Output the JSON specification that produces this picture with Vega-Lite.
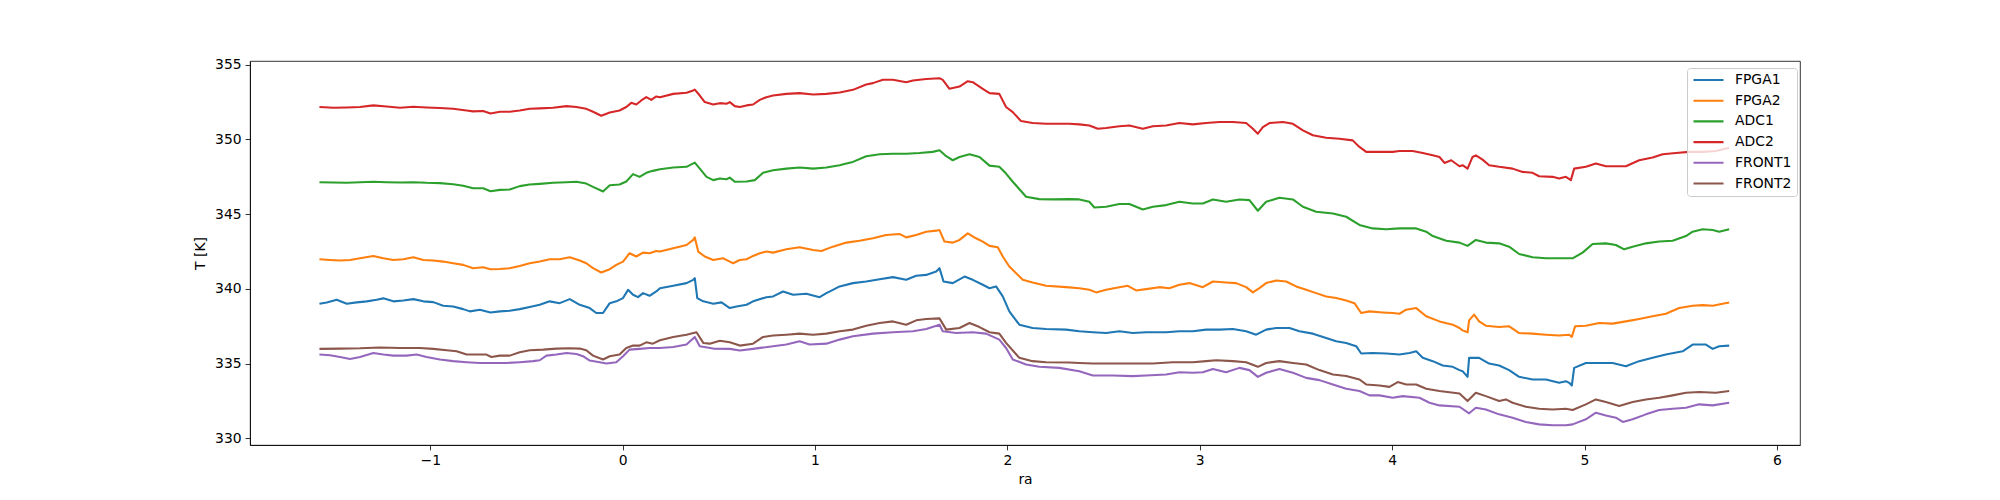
{
"$schema":"https://vega.github.io/schema/vega-lite/v6.json",
"width":1550,"height":384,
"autosize":{"type":"none"},
"padding":{"left":250,"top":61,"right":200,"bottom":55},
"background":"white",
"config":{
"view":{"stroke":"black","strokeWidth":0.8},
"font":"DejaVu Sans",
"axis":{"domainColor":"black","domainWidth":0.8,"tickColor":"black","tickWidth":0.8,"tickSize":4.9,"labelFont":"DejaVu Sans","labelFontSize":13.9,"labelColor":"black","labelPadding":4,"titleFont":"DejaVu Sans","titleFontSize":13.9,"titleFontWeight":"normal","titleColor":"black","grid":false},
"legend":{"orient":"none","legendX":1437,"legendY":7,"fillColor":"rgba(255,255,255,0.8)","strokeColor":"#cccccc","strokeWidth":1,"cornerRadius":3,"padding":5,"symbolType":"stroke","symbolSize":900,"symbolStrokeWidth":2.08,"clipHeight":14,"labelFont":"DejaVu Sans","labelFontSize":13.9,"labelColor":"black","labelOffset":10,"rowPadding":6.7}
},
"data":{"values":[
{"s":"FPGA1","x":-1.576,"t":339.00},{"s":"FPGA1","x":-1.538,"t":339.09},{"s":"FPGA1","x":-1.486,"t":339.27},{"s":"FPGA1","x":-1.434,"t":339.00},{"s":"FPGA1","x":-1.382,"t":339.09},{"s":"FPGA1","x":-1.330,"t":339.16},{"s":"FPGA1","x":-1.279,"t":339.27},{"s":"FPGA1","x":-1.244,"t":339.36},{"s":"FPGA1","x":-1.192,"t":339.16},{"s":"FPGA1","x":-1.140,"t":339.22},{"s":"FPGA1","x":-1.088,"t":339.31},{"s":"FPGA1","x":-1.036,"t":339.16},{"s":"FPGA1","x":-0.984,"t":339.11},{"s":"FPGA1","x":-0.933,"t":338.87},{"s":"FPGA1","x":-0.881,"t":338.82},{"s":"FPGA1","x":-0.829,"t":338.64},{"s":"FPGA1","x":-0.794,"t":338.49},{"s":"FPGA1","x":-0.742,"t":338.60},{"s":"FPGA1","x":-0.687,"t":338.42},{"s":"FPGA1","x":-0.638,"t":338.49},{"s":"FPGA1","x":-0.587,"t":338.53},{"s":"FPGA1","x":-0.535,"t":338.64},{"s":"FPGA1","x":-0.483,"t":338.78},{"s":"FPGA1","x":-0.431,"t":338.93},{"s":"FPGA1","x":-0.379,"t":339.16},{"s":"FPGA1","x":-0.327,"t":339.04},{"s":"FPGA1","x":-0.275,"t":339.31},{"s":"FPGA1","x":-0.223,"t":338.93},{"s":"FPGA1","x":-0.171,"t":338.71},{"s":"FPGA1","x":-0.137,"t":338.38},{"s":"FPGA1","x":-0.102,"t":338.38},{"s":"FPGA1","x":-0.067,"t":339.04},{"s":"FPGA1","x":-0.033,"t":339.16},{"s":"FPGA1","x":0.002,"t":339.38},{"s":"FPGA1","x":0.028,"t":339.93},{"s":"FPGA1","x":0.054,"t":339.60},{"s":"FPGA1","x":0.080,"t":339.44},{"s":"FPGA1","x":0.106,"t":339.71},{"s":"FPGA1","x":0.140,"t":339.53},{"s":"FPGA1","x":0.175,"t":339.82},
{"s":"FPGA1","x":0.194,"t":340.04},{"s":"FPGA1","x":0.263,"t":340.20},{"s":"FPGA1","x":0.332,"t":340.38},{"s":"FPGA1","x":0.367,"t":340.60},{"s":"FPGA1","x":0.375,"t":340.71},{"s":"FPGA1","x":0.388,"t":339.38},{"s":"FPGA1","x":0.419,"t":339.16},{"s":"FPGA1","x":0.471,"t":339.00},{"s":"FPGA1","x":0.514,"t":339.09},{"s":"FPGA1","x":0.557,"t":338.71},{"s":"FPGA1","x":0.592,"t":338.82},{"s":"FPGA1","x":0.644,"t":338.93},{"s":"FPGA1","x":0.678,"t":339.16},{"s":"FPGA1","x":0.747,"t":339.44},{"s":"FPGA1","x":0.782,"t":339.49},{"s":"FPGA1","x":0.834,"t":339.82},{"s":"FPGA1","x":0.886,"t":339.60},{"s":"FPGA1","x":0.955,"t":339.67},{"s":"FPGA1","x":1.024,"t":339.44},{"s":"FPGA1","x":1.059,"t":339.71},{"s":"FPGA1","x":1.093,"t":339.93},{"s":"FPGA1","x":1.128,"t":340.16},{"s":"FPGA1","x":1.197,"t":340.38},{"s":"FPGA1","x":1.266,"t":340.49},{"s":"FPGA1","x":1.336,"t":340.64},{"s":"FPGA1","x":1.405,"t":340.78},{"s":"FPGA1","x":1.474,"t":340.60},{"s":"FPGA1","x":1.526,"t":340.87},{"s":"FPGA1","x":1.578,"t":340.93},{"s":"FPGA1","x":1.630,"t":341.16},{"s":"FPGA1","x":1.647,"t":341.38},{"s":"FPGA1","x":1.668,"t":340.49},{"s":"FPGA1","x":1.716,"t":340.38},{"s":"FPGA1","x":1.777,"t":340.82},{"s":"FPGA1","x":1.820,"t":340.60},{"s":"FPGA1","x":1.872,"t":340.27},{"s":"FPGA1","x":1.907,"t":340.04},{"s":"FPGA1","x":1.941,"t":340.16},{"s":"FPGA1","x":1.976,"t":339.49},{"s":"FPGA1","x":2.010,"t":338.49},{"s":"FPGA1","x":2.062,"t":337.60},{"s":"FPGA1","x":2.131,"t":337.38},{"s":"FPGA1","x":2.201,"t":337.31},
{"s":"FPGA1","x":2.305,"t":337.27},{"s":"FPGA1","x":2.374,"t":337.16},{"s":"FPGA1","x":2.444,"t":337.09},{"s":"FPGA1","x":2.513,"t":337.04},{"s":"FPGA1","x":2.582,"t":337.16},{"s":"FPGA1","x":2.652,"t":337.04},{"s":"FPGA1","x":2.721,"t":337.09},{"s":"FPGA1","x":2.825,"t":337.09},{"s":"FPGA1","x":2.894,"t":337.16},{"s":"FPGA1","x":2.964,"t":337.16},{"s":"FPGA1","x":3.033,"t":337.27},{"s":"FPGA1","x":3.102,"t":337.27},{"s":"FPGA1","x":3.172,"t":337.31},{"s":"FPGA1","x":3.241,"t":337.16},{"s":"FPGA1","x":3.293,"t":336.93},{"s":"FPGA1","x":3.345,"t":337.27},{"s":"FPGA1","x":3.397,"t":337.38},{"s":"FPGA1","x":3.466,"t":337.38},{"s":"FPGA1","x":3.518,"t":337.16},{"s":"FPGA1","x":3.588,"t":337.00},{"s":"FPGA1","x":3.657,"t":336.71},{"s":"FPGA1","x":3.709,"t":336.49},{"s":"FPGA1","x":3.761,"t":336.38},{"s":"FPGA1","x":3.813,"t":336.16},{"s":"FPGA1","x":3.839,"t":335.67},{"s":"FPGA1","x":3.899,"t":335.71},{"s":"FPGA1","x":3.969,"t":335.67},{"s":"FPGA1","x":4.038,"t":335.60},{"s":"FPGA1","x":4.090,"t":335.71},{"s":"FPGA1","x":4.125,"t":335.82},{"s":"FPGA1","x":4.159,"t":335.38},{"s":"FPGA1","x":4.211,"t":335.16},{"s":"FPGA1","x":4.263,"t":334.87},{"s":"FPGA1","x":4.315,"t":334.78},{"s":"FPGA1","x":4.350,"t":334.56},
{"s":"FPGA1","x":4.366,"t":334.49},{"s":"FPGA1","x":4.392,"t":334.11},{"s":"FPGA1","x":4.400,"t":335.38},{"s":"FPGA1","x":4.452,"t":335.38},{"s":"FPGA1","x":4.504,"t":335.00},{"s":"FPGA1","x":4.556,"t":334.87},{"s":"FPGA1","x":4.608,"t":334.56},{"s":"FPGA1","x":4.660,"t":334.11},{"s":"FPGA1","x":4.730,"t":333.93},{"s":"FPGA1","x":4.799,"t":333.93},{"s":"FPGA1","x":4.868,"t":333.71},{"s":"FPGA1","x":4.903,"t":333.82},{"s":"FPGA1","x":4.920,"t":333.71},{"s":"FPGA1","x":4.934,"t":333.53},{"s":"FPGA1","x":4.946,"t":334.71},{"s":"FPGA1","x":5.007,"t":335.04},{"s":"FPGA1","x":5.076,"t":335.04},{"s":"FPGA1","x":5.146,"t":335.04},{"s":"FPGA1","x":5.215,"t":334.82},{"s":"FPGA1","x":5.284,"t":335.16},{"s":"FPGA1","x":5.354,"t":335.38},{"s":"FPGA1","x":5.423,"t":335.60},{"s":"FPGA1","x":5.510,"t":335.82},{"s":"FPGA1","x":5.562,"t":336.27},{"s":"FPGA1","x":5.631,"t":336.27},{"s":"FPGA1","x":5.666,"t":335.98},{"s":"FPGA1","x":5.700,"t":336.16},{"s":"FPGA1","x":5.752,"t":336.20},
{"s":"FPGA2","x":-1.576,"t":341.98},{"s":"FPGA2","x":-1.521,"t":341.93},{"s":"FPGA2","x":-1.469,"t":341.89},{"s":"FPGA2","x":-1.417,"t":341.93},{"s":"FPGA2","x":-1.365,"t":342.04},{"s":"FPGA2","x":-1.296,"t":342.20},{"s":"FPGA2","x":-1.244,"t":342.04},{"s":"FPGA2","x":-1.192,"t":341.93},{"s":"FPGA2","x":-1.140,"t":341.98},{"s":"FPGA2","x":-1.088,"t":342.11},{"s":"FPGA2","x":-1.036,"t":341.93},{"s":"FPGA2","x":-0.984,"t":341.89},{"s":"FPGA2","x":-0.933,"t":341.82},{"s":"FPGA2","x":-0.881,"t":341.71},{"s":"FPGA2","x":-0.829,"t":341.60},{"s":"FPGA2","x":-0.777,"t":341.38},{"s":"FPGA2","x":-0.725,"t":341.44},{"s":"FPGA2","x":-0.687,"t":341.31},{"s":"FPGA2","x":-0.638,"t":341.33},{"s":"FPGA2","x":-0.587,"t":341.38},{"s":"FPGA2","x":-0.535,"t":341.53},{"s":"FPGA2","x":-0.483,"t":341.71},{"s":"FPGA2","x":-0.431,"t":341.82},{"s":"FPGA2","x":-0.379,"t":341.98},{"s":"FPGA2","x":-0.327,"t":341.98},{"s":"FPGA2","x":-0.275,"t":342.11},{"s":"FPGA2","x":-0.223,"t":341.89},{"s":"FPGA2","x":-0.189,"t":341.71},{"s":"FPGA2","x":-0.154,"t":341.38},{"s":"FPGA2","x":-0.111,"t":341.09},{"s":"FPGA2","x":-0.067,"t":341.31},{"s":"FPGA2","x":-0.033,"t":341.60},{"s":"FPGA2","x":0.002,"t":341.82},{"s":"FPGA2","x":0.036,"t":342.38},{"s":"FPGA2","x":0.071,"t":342.16},{"s":"FPGA2","x":0.106,"t":342.42},{"s":"FPGA2","x":0.140,"t":342.38},{"s":"FPGA2","x":0.175,"t":342.53},
{"s":"FPGA2","x":0.194,"t":342.49},{"s":"FPGA2","x":0.263,"t":342.71},{"s":"FPGA2","x":0.332,"t":342.93},{"s":"FPGA2","x":0.367,"t":343.27},{"s":"FPGA2","x":0.375,"t":343.44},{"s":"FPGA2","x":0.393,"t":342.49},{"s":"FPGA2","x":0.427,"t":342.16},{"s":"FPGA2","x":0.471,"t":341.93},{"s":"FPGA2","x":0.522,"t":342.04},{"s":"FPGA2","x":0.557,"t":341.82},{"s":"FPGA2","x":0.574,"t":341.71},{"s":"FPGA2","x":0.609,"t":341.93},{"s":"FPGA2","x":0.644,"t":341.98},{"s":"FPGA2","x":0.678,"t":342.20},{"s":"FPGA2","x":0.713,"t":342.38},{"s":"FPGA2","x":0.747,"t":342.49},{"s":"FPGA2","x":0.782,"t":342.42},{"s":"FPGA2","x":0.851,"t":342.64},{"s":"FPGA2","x":0.920,"t":342.78},{"s":"FPGA2","x":0.990,"t":342.60},{"s":"FPGA2","x":1.033,"t":342.53},{"s":"FPGA2","x":1.093,"t":342.82},{"s":"FPGA2","x":1.163,"t":343.09},{"s":"FPGA2","x":1.232,"t":343.22},{"s":"FPGA2","x":1.301,"t":343.38},{"s":"FPGA2","x":1.370,"t":343.60},{"s":"FPGA2","x":1.439,"t":343.67},{"s":"FPGA2","x":1.474,"t":343.44},{"s":"FPGA2","x":1.526,"t":343.60},{"s":"FPGA2","x":1.578,"t":343.82},{"s":"FPGA2","x":1.630,"t":343.89},{"s":"FPGA2","x":1.647,"t":343.93},{"s":"FPGA2","x":1.673,"t":343.16},{"s":"FPGA2","x":1.716,"t":343.09},{"s":"FPGA2","x":1.751,"t":343.27},{"s":"FPGA2","x":1.794,"t":343.71},{"s":"FPGA2","x":1.837,"t":343.38},{"s":"FPGA2","x":1.872,"t":343.16},{"s":"FPGA2","x":1.907,"t":342.87},{"s":"FPGA2","x":1.950,"t":342.78},{"s":"FPGA2","x":1.976,"t":342.16},{"s":"FPGA2","x":2.010,"t":341.49},{"s":"FPGA2","x":2.080,"t":340.60},{"s":"FPGA2","x":2.131,"t":340.42},{"s":"FPGA2","x":2.201,"t":340.20},
{"s":"FPGA2","x":2.305,"t":340.11},{"s":"FPGA2","x":2.374,"t":340.04},{"s":"FPGA2","x":2.426,"t":339.93},{"s":"FPGA2","x":2.461,"t":339.76},{"s":"FPGA2","x":2.513,"t":339.93},{"s":"FPGA2","x":2.582,"t":340.11},{"s":"FPGA2","x":2.626,"t":340.20},{"s":"FPGA2","x":2.669,"t":339.89},{"s":"FPGA2","x":2.721,"t":339.98},{"s":"FPGA2","x":2.790,"t":340.11},{"s":"FPGA2","x":2.842,"t":340.04},{"s":"FPGA2","x":2.894,"t":340.27},{"s":"FPGA2","x":2.946,"t":340.38},{"s":"FPGA2","x":3.016,"t":340.11},{"s":"FPGA2","x":3.068,"t":340.49},{"s":"FPGA2","x":3.137,"t":340.42},{"s":"FPGA2","x":3.189,"t":340.38},{"s":"FPGA2","x":3.241,"t":340.11},{"s":"FPGA2","x":3.276,"t":339.76},{"s":"FPGA2","x":3.310,"t":340.04},{"s":"FPGA2","x":3.345,"t":340.38},{"s":"FPGA2","x":3.397,"t":340.56},{"s":"FPGA2","x":3.449,"t":340.49},{"s":"FPGA2","x":3.501,"t":340.16},{"s":"FPGA2","x":3.553,"t":339.93},{"s":"FPGA2","x":3.605,"t":339.71},{"s":"FPGA2","x":3.657,"t":339.49},{"s":"FPGA2","x":3.709,"t":339.38},{"s":"FPGA2","x":3.761,"t":339.22},{"s":"FPGA2","x":3.804,"t":339.04},{"s":"FPGA2","x":3.839,"t":338.38},{"s":"FPGA2","x":3.882,"t":338.49},{"s":"FPGA2","x":3.951,"t":338.42},{"s":"FPGA2","x":4.003,"t":338.38},{"s":"FPGA2","x":4.038,"t":338.33},{"s":"FPGA2","x":4.073,"t":338.60},{"s":"FPGA2","x":4.125,"t":338.71},{"s":"FPGA2","x":4.177,"t":338.16},{"s":"FPGA2","x":4.246,"t":337.82},{"s":"FPGA2","x":4.315,"t":337.60},{"s":"FPGA2","x":4.350,"t":337.38},
{"s":"FPGA2","x":4.366,"t":337.22},{"s":"FPGA2","x":4.392,"t":337.09},{"s":"FPGA2","x":4.400,"t":337.89},{"s":"FPGA2","x":4.426,"t":338.27},{"s":"FPGA2","x":4.452,"t":337.82},{"s":"FPGA2","x":4.487,"t":337.53},{"s":"FPGA2","x":4.556,"t":337.44},{"s":"FPGA2","x":4.608,"t":337.49},{"s":"FPGA2","x":4.634,"t":337.27},{"s":"FPGA2","x":4.660,"t":337.04},{"s":"FPGA2","x":4.730,"t":337.00},{"s":"FPGA2","x":4.799,"t":336.93},{"s":"FPGA2","x":4.868,"t":336.87},{"s":"FPGA2","x":4.920,"t":336.93},{"s":"FPGA2","x":4.934,"t":336.78},{"s":"FPGA2","x":4.951,"t":337.49},{"s":"FPGA2","x":5.007,"t":337.53},{"s":"FPGA2","x":5.076,"t":337.71},{"s":"FPGA2","x":5.146,"t":337.67},{"s":"FPGA2","x":5.215,"t":337.82},{"s":"FPGA2","x":5.284,"t":337.98},{"s":"FPGA2","x":5.354,"t":338.16},{"s":"FPGA2","x":5.423,"t":338.33},{"s":"FPGA2","x":5.492,"t":338.71},{"s":"FPGA2","x":5.562,"t":338.87},{"s":"FPGA2","x":5.614,"t":338.91},{"s":"FPGA2","x":5.666,"t":338.87},{"s":"FPGA2","x":5.718,"t":339.00},{"s":"FPGA2","x":5.752,"t":339.09},
{"s":"ADC1","x":-1.576,"t":347.13},{"s":"ADC1","x":-1.503,"t":347.11},{"s":"ADC1","x":-1.434,"t":347.09},{"s":"ADC1","x":-1.365,"t":347.13},{"s":"ADC1","x":-1.296,"t":347.16},{"s":"ADC1","x":-1.227,"t":347.13},{"s":"ADC1","x":-1.157,"t":347.11},{"s":"ADC1","x":-1.088,"t":347.13},{"s":"ADC1","x":-1.019,"t":347.09},{"s":"ADC1","x":-0.950,"t":347.07},{"s":"ADC1","x":-0.881,"t":347.00},{"s":"ADC1","x":-0.829,"t":346.89},{"s":"ADC1","x":-0.777,"t":346.73},{"s":"ADC1","x":-0.725,"t":346.73},{"s":"ADC1","x":-0.687,"t":346.53},{"s":"ADC1","x":-0.638,"t":346.62},{"s":"ADC1","x":-0.587,"t":346.64},{"s":"ADC1","x":-0.535,"t":346.87},{"s":"ADC1","x":-0.483,"t":346.98},{"s":"ADC1","x":-0.431,"t":347.02},{"s":"ADC1","x":-0.362,"t":347.09},{"s":"ADC1","x":-0.292,"t":347.13},{"s":"ADC1","x":-0.240,"t":347.16},{"s":"ADC1","x":-0.189,"t":347.04},{"s":"ADC1","x":-0.154,"t":346.82},{"s":"ADC1","x":-0.102,"t":346.51},{"s":"ADC1","x":-0.067,"t":346.93},{"s":"ADC1","x":-0.016,"t":346.98},{"s":"ADC1","x":0.019,"t":347.18},{"s":"ADC1","x":0.054,"t":347.67},{"s":"ADC1","x":0.088,"t":347.49},{"s":"ADC1","x":0.123,"t":347.76},{"s":"ADC1","x":0.157,"t":347.89},
{"s":"ADC1","x":0.194,"t":348.00},{"s":"ADC1","x":0.263,"t":348.11},{"s":"ADC1","x":0.332,"t":348.16},{"s":"ADC1","x":0.375,"t":348.44},{"s":"ADC1","x":0.401,"t":348.04},{"s":"ADC1","x":0.436,"t":347.49},{"s":"ADC1","x":0.471,"t":347.27},{"s":"ADC1","x":0.505,"t":347.38},{"s":"ADC1","x":0.540,"t":347.33},{"s":"ADC1","x":0.557,"t":347.44},{"s":"ADC1","x":0.583,"t":347.16},{"s":"ADC1","x":0.644,"t":347.18},{"s":"ADC1","x":0.687,"t":347.27},{"s":"ADC1","x":0.730,"t":347.76},{"s":"ADC1","x":0.782,"t":347.93},{"s":"ADC1","x":0.851,"t":348.04},{"s":"ADC1","x":0.920,"t":348.11},{"s":"ADC1","x":0.990,"t":348.04},{"s":"ADC1","x":1.059,"t":348.11},{"s":"ADC1","x":1.128,"t":348.27},{"s":"ADC1","x":1.163,"t":348.38},{"s":"ADC1","x":1.197,"t":348.49},{"s":"ADC1","x":1.266,"t":348.87},{"s":"ADC1","x":1.336,"t":349.00},{"s":"ADC1","x":1.405,"t":349.04},{"s":"ADC1","x":1.474,"t":349.04},{"s":"ADC1","x":1.543,"t":349.09},{"s":"ADC1","x":1.612,"t":349.16},{"s":"ADC1","x":1.647,"t":349.27},{"s":"ADC1","x":1.682,"t":348.87},{"s":"ADC1","x":1.716,"t":348.60},{"s":"ADC1","x":1.751,"t":348.82},{"s":"ADC1","x":1.803,"t":349.00},{"s":"ADC1","x":1.855,"t":348.82},{"s":"ADC1","x":1.907,"t":348.24},{"s":"ADC1","x":1.958,"t":348.16},{"s":"ADC1","x":1.993,"t":347.71},{"s":"ADC1","x":2.028,"t":347.16},{"s":"ADC1","x":2.097,"t":346.16},{"s":"ADC1","x":2.166,"t":346.00},{"s":"ADC1","x":2.235,"t":345.98},
{"s":"ADC1","x":2.322,"t":346.00},{"s":"ADC1","x":2.374,"t":345.98},{"s":"ADC1","x":2.426,"t":345.82},{"s":"ADC1","x":2.452,"t":345.44},{"s":"ADC1","x":2.513,"t":345.49},{"s":"ADC1","x":2.582,"t":345.67},{"s":"ADC1","x":2.634,"t":345.67},{"s":"ADC1","x":2.704,"t":345.31},{"s":"ADC1","x":2.756,"t":345.49},{"s":"ADC1","x":2.825,"t":345.60},{"s":"ADC1","x":2.894,"t":345.82},{"s":"ADC1","x":2.964,"t":345.71},{"s":"ADC1","x":3.016,"t":345.71},{"s":"ADC1","x":3.068,"t":345.98},{"s":"ADC1","x":3.137,"t":345.82},{"s":"ADC1","x":3.206,"t":345.98},{"s":"ADC1","x":3.258,"t":345.93},{"s":"ADC1","x":3.302,"t":345.22},{"s":"ADC1","x":3.345,"t":345.82},{"s":"ADC1","x":3.414,"t":346.09},{"s":"ADC1","x":3.484,"t":345.98},{"s":"ADC1","x":3.536,"t":345.49},{"s":"ADC1","x":3.605,"t":345.16},{"s":"ADC1","x":3.692,"t":345.04},{"s":"ADC1","x":3.761,"t":344.82},{"s":"ADC1","x":3.830,"t":344.27},{"s":"ADC1","x":3.899,"t":344.04},{"s":"ADC1","x":3.969,"t":343.98},{"s":"ADC1","x":4.038,"t":344.04},{"s":"ADC1","x":4.125,"t":344.04},{"s":"ADC1","x":4.177,"t":343.82},{"s":"ADC1","x":4.211,"t":343.53},{"s":"ADC1","x":4.281,"t":343.22},{"s":"ADC1","x":4.350,"t":343.09},
{"s":"ADC1","x":4.392,"t":342.87},{"s":"ADC1","x":4.435,"t":343.27},{"s":"ADC1","x":4.487,"t":343.09},{"s":"ADC1","x":4.556,"t":343.04},{"s":"ADC1","x":4.608,"t":342.82},{"s":"ADC1","x":4.660,"t":342.33},{"s":"ADC1","x":4.730,"t":342.11},{"s":"ADC1","x":4.799,"t":342.04},{"s":"ADC1","x":4.868,"t":342.04},{"s":"ADC1","x":4.938,"t":342.04},{"s":"ADC1","x":4.990,"t":342.42},{"s":"ADC1","x":5.042,"t":343.00},{"s":"ADC1","x":5.111,"t":343.04},{"s":"ADC1","x":5.163,"t":342.93},{"s":"ADC1","x":5.206,"t":342.64},{"s":"ADC1","x":5.250,"t":342.82},{"s":"ADC1","x":5.319,"t":343.04},{"s":"ADC1","x":5.388,"t":343.16},{"s":"ADC1","x":5.458,"t":343.22},{"s":"ADC1","x":5.527,"t":343.53},{"s":"ADC1","x":5.562,"t":343.82},{"s":"ADC1","x":5.614,"t":343.98},{"s":"ADC1","x":5.666,"t":343.93},{"s":"ADC1","x":5.700,"t":343.82},{"s":"ADC1","x":5.752,"t":343.98},
{"s":"ADC2","x":-1.576,"t":352.16},{"s":"ADC2","x":-1.503,"t":352.11},{"s":"ADC2","x":-1.434,"t":352.13},{"s":"ADC2","x":-1.365,"t":352.16},{"s":"ADC2","x":-1.296,"t":352.27},{"s":"ADC2","x":-1.227,"t":352.20},{"s":"ADC2","x":-1.157,"t":352.11},{"s":"ADC2","x":-1.088,"t":352.18},{"s":"ADC2","x":-1.019,"t":352.13},{"s":"ADC2","x":-0.950,"t":352.09},{"s":"ADC2","x":-0.881,"t":352.04},{"s":"ADC2","x":-0.811,"t":351.93},{"s":"ADC2","x":-0.777,"t":351.87},{"s":"ADC2","x":-0.725,"t":351.89},{"s":"ADC2","x":-0.687,"t":351.73},{"s":"ADC2","x":-0.638,"t":351.84},{"s":"ADC2","x":-0.587,"t":351.84},{"s":"ADC2","x":-0.535,"t":351.93},{"s":"ADC2","x":-0.483,"t":352.04},{"s":"ADC2","x":-0.431,"t":352.07},{"s":"ADC2","x":-0.362,"t":352.11},{"s":"ADC2","x":-0.292,"t":352.22},{"s":"ADC2","x":-0.240,"t":352.16},{"s":"ADC2","x":-0.189,"t":352.04},{"s":"ADC2","x":-0.154,"t":351.84},{"s":"ADC2","x":-0.111,"t":351.58},{"s":"ADC2","x":-0.067,"t":351.80},{"s":"ADC2","x":-0.016,"t":351.93},{"s":"ADC2","x":0.019,"t":352.16},{"s":"ADC2","x":0.045,"t":352.44},{"s":"ADC2","x":0.071,"t":352.33},{"s":"ADC2","x":0.097,"t":352.60},{"s":"ADC2","x":0.123,"t":352.82},{"s":"ADC2","x":0.149,"t":352.64},{"s":"ADC2","x":0.175,"t":352.87},
{"s":"ADC2","x":0.194,"t":352.82},{"s":"ADC2","x":0.263,"t":353.04},{"s":"ADC2","x":0.332,"t":353.11},{"s":"ADC2","x":0.367,"t":353.27},{"s":"ADC2","x":0.375,"t":353.33},{"s":"ADC2","x":0.401,"t":352.93},{"s":"ADC2","x":0.427,"t":352.49},{"s":"ADC2","x":0.471,"t":352.33},{"s":"ADC2","x":0.505,"t":352.42},{"s":"ADC2","x":0.540,"t":352.38},{"s":"ADC2","x":0.557,"t":352.49},{"s":"ADC2","x":0.583,"t":352.22},{"s":"ADC2","x":0.609,"t":352.16},{"s":"ADC2","x":0.644,"t":352.27},{"s":"ADC2","x":0.678,"t":352.33},{"s":"ADC2","x":0.713,"t":352.64},{"s":"ADC2","x":0.747,"t":352.82},{"s":"ADC2","x":0.782,"t":352.93},{"s":"ADC2","x":0.851,"t":353.04},{"s":"ADC2","x":0.920,"t":353.09},{"s":"ADC2","x":0.990,"t":353.00},{"s":"ADC2","x":1.059,"t":353.04},{"s":"ADC2","x":1.128,"t":353.13},{"s":"ADC2","x":1.197,"t":353.31},{"s":"ADC2","x":1.266,"t":353.67},{"s":"ADC2","x":1.301,"t":353.76},{"s":"ADC2","x":1.353,"t":353.98},{"s":"ADC2","x":1.405,"t":353.98},{"s":"ADC2","x":1.474,"t":353.82},{"s":"ADC2","x":1.509,"t":353.93},{"s":"ADC2","x":1.578,"t":354.04},{"s":"ADC2","x":1.647,"t":354.09},{"s":"ADC2","x":1.664,"t":353.98},{"s":"ADC2","x":1.699,"t":353.38},{"s":"ADC2","x":1.751,"t":353.53},{"s":"ADC2","x":1.794,"t":353.89},{"s":"ADC2","x":1.820,"t":353.82},{"s":"ADC2","x":1.872,"t":353.38},{"s":"ADC2","x":1.907,"t":353.09},{"s":"ADC2","x":1.958,"t":353.04},{"s":"ADC2","x":1.993,"t":352.16},{"s":"ADC2","x":2.028,"t":351.82},{"s":"ADC2","x":2.071,"t":351.22},{"s":"ADC2","x":2.131,"t":351.09},{"s":"ADC2","x":2.201,"t":351.04},
{"s":"ADC2","x":2.322,"t":351.04},{"s":"ADC2","x":2.374,"t":351.00},{"s":"ADC2","x":2.426,"t":350.93},{"s":"ADC2","x":2.470,"t":350.71},{"s":"ADC2","x":2.513,"t":350.76},{"s":"ADC2","x":2.582,"t":350.87},{"s":"ADC2","x":2.634,"t":350.93},{"s":"ADC2","x":2.704,"t":350.71},{"s":"ADC2","x":2.756,"t":350.87},{"s":"ADC2","x":2.825,"t":350.93},{"s":"ADC2","x":2.894,"t":351.09},{"s":"ADC2","x":2.964,"t":351.00},{"s":"ADC2","x":3.033,"t":351.09},{"s":"ADC2","x":3.102,"t":351.16},{"s":"ADC2","x":3.172,"t":351.16},{"s":"ADC2","x":3.241,"t":351.09},{"s":"ADC2","x":3.276,"t":350.71},{"s":"ADC2","x":3.302,"t":350.38},{"s":"ADC2","x":3.328,"t":350.82},{"s":"ADC2","x":3.362,"t":351.09},{"s":"ADC2","x":3.432,"t":351.16},{"s":"ADC2","x":3.484,"t":351.04},{"s":"ADC2","x":3.536,"t":350.60},{"s":"ADC2","x":3.588,"t":350.27},{"s":"ADC2","x":3.657,"t":350.11},{"s":"ADC2","x":3.726,"t":350.04},{"s":"ADC2","x":3.795,"t":349.93},{"s":"ADC2","x":3.830,"t":349.49},{"s":"ADC2","x":3.865,"t":349.16},{"s":"ADC2","x":3.934,"t":349.16},{"s":"ADC2","x":4.003,"t":349.16},{"s":"ADC2","x":4.038,"t":349.22},{"s":"ADC2","x":4.107,"t":349.22},{"s":"ADC2","x":4.159,"t":349.09},{"s":"ADC2","x":4.211,"t":348.93},{"s":"ADC2","x":4.246,"t":348.82},{"s":"ADC2","x":4.272,"t":348.42},{"s":"ADC2","x":4.307,"t":348.60},{"s":"ADC2","x":4.350,"t":348.20},
{"s":"ADC2","x":4.366,"t":348.27},{"s":"ADC2","x":4.392,"t":348.04},{"s":"ADC2","x":4.418,"t":348.82},{"s":"ADC2","x":4.435,"t":348.93},{"s":"ADC2","x":4.470,"t":348.64},{"s":"ADC2","x":4.504,"t":348.27},{"s":"ADC2","x":4.556,"t":348.16},{"s":"ADC2","x":4.626,"t":348.04},{"s":"ADC2","x":4.678,"t":347.82},{"s":"ADC2","x":4.730,"t":347.76},{"s":"ADC2","x":4.764,"t":347.53},{"s":"ADC2","x":4.834,"t":347.49},{"s":"ADC2","x":4.868,"t":347.38},{"s":"ADC2","x":4.903,"t":347.49},{"s":"ADC2","x":4.929,"t":347.27},{"s":"ADC2","x":4.946,"t":348.04},{"s":"ADC2","x":5.007,"t":348.16},{"s":"ADC2","x":5.059,"t":348.38},{"s":"ADC2","x":5.111,"t":348.20},{"s":"ADC2","x":5.180,"t":348.20},{"s":"ADC2","x":5.215,"t":348.20},{"s":"ADC2","x":5.284,"t":348.60},{"s":"ADC2","x":5.354,"t":348.78},{"s":"ADC2","x":5.406,"t":349.00},{"s":"ADC2","x":5.475,"t":349.09},{"s":"ADC2","x":5.544,"t":349.16},{"s":"ADC2","x":5.614,"t":349.16},{"s":"ADC2","x":5.683,"t":349.22},{"s":"ADC2","x":5.752,"t":349.44},
{"s":"FRONT1","x":-1.576,"t":335.60},{"s":"FRONT1","x":-1.521,"t":335.56},{"s":"FRONT1","x":-1.469,"t":335.44},{"s":"FRONT1","x":-1.417,"t":335.31},{"s":"FRONT1","x":-1.365,"t":335.44},{"s":"FRONT1","x":-1.296,"t":335.71},{"s":"FRONT1","x":-1.244,"t":335.60},{"s":"FRONT1","x":-1.192,"t":335.53},{"s":"FRONT1","x":-1.123,"t":335.53},{"s":"FRONT1","x":-1.071,"t":335.60},{"s":"FRONT1","x":-1.019,"t":335.44},{"s":"FRONT1","x":-0.950,"t":335.27},{"s":"FRONT1","x":-0.881,"t":335.16},{"s":"FRONT1","x":-0.811,"t":335.09},{"s":"FRONT1","x":-0.742,"t":335.04},{"s":"FRONT1","x":-0.673,"t":335.04},{"s":"FRONT1","x":-0.604,"t":335.04},{"s":"FRONT1","x":-0.535,"t":335.09},{"s":"FRONT1","x":-0.465,"t":335.16},{"s":"FRONT1","x":-0.431,"t":335.22},{"s":"FRONT1","x":-0.396,"t":335.53},{"s":"FRONT1","x":-0.344,"t":335.60},{"s":"FRONT1","x":-0.292,"t":335.71},{"s":"FRONT1","x":-0.240,"t":335.64},{"s":"FRONT1","x":-0.206,"t":335.49},{"s":"FRONT1","x":-0.171,"t":335.20},{"s":"FRONT1","x":-0.119,"t":335.09},{"s":"FRONT1","x":-0.085,"t":335.00},{"s":"FRONT1","x":-0.033,"t":335.09},{"s":"FRONT1","x":0.002,"t":335.49},{"s":"FRONT1","x":0.036,"t":335.93},{"s":"FRONT1","x":0.088,"t":335.98},{"s":"FRONT1","x":0.140,"t":336.04},
{"s":"FRONT1","x":0.194,"t":336.04},{"s":"FRONT1","x":0.263,"t":336.11},{"s":"FRONT1","x":0.332,"t":336.27},{"s":"FRONT1","x":0.375,"t":336.78},{"s":"FRONT1","x":0.401,"t":336.16},{"s":"FRONT1","x":0.471,"t":336.00},{"s":"FRONT1","x":0.557,"t":335.98},{"s":"FRONT1","x":0.609,"t":335.87},{"s":"FRONT1","x":0.678,"t":335.98},{"s":"FRONT1","x":0.782,"t":336.16},{"s":"FRONT1","x":0.851,"t":336.27},{"s":"FRONT1","x":0.920,"t":336.49},{"s":"FRONT1","x":0.972,"t":336.27},{"s":"FRONT1","x":1.059,"t":336.33},{"s":"FRONT1","x":1.128,"t":336.60},{"s":"FRONT1","x":1.197,"t":336.82},{"s":"FRONT1","x":1.301,"t":337.00},{"s":"FRONT1","x":1.405,"t":337.09},{"s":"FRONT1","x":1.509,"t":337.16},{"s":"FRONT1","x":1.578,"t":337.31},{"s":"FRONT1","x":1.647,"t":337.60},{"s":"FRONT1","x":1.664,"t":337.16},{"s":"FRONT1","x":1.734,"t":337.04},{"s":"FRONT1","x":1.820,"t":337.09},{"s":"FRONT1","x":1.889,"t":337.00},{"s":"FRONT1","x":1.958,"t":336.60},{"s":"FRONT1","x":1.993,"t":336.04},{"s":"FRONT1","x":2.028,"t":335.27},{"s":"FRONT1","x":2.097,"t":334.93},{"s":"FRONT1","x":2.166,"t":334.78},
{"s":"FRONT1","x":2.270,"t":334.71},{"s":"FRONT1","x":2.374,"t":334.49},{"s":"FRONT1","x":2.444,"t":334.20},{"s":"FRONT1","x":2.548,"t":334.20},{"s":"FRONT1","x":2.652,"t":334.16},{"s":"FRONT1","x":2.721,"t":334.20},{"s":"FRONT1","x":2.825,"t":334.27},{"s":"FRONT1","x":2.894,"t":334.42},{"s":"FRONT1","x":2.964,"t":334.38},{"s":"FRONT1","x":3.016,"t":334.42},{"s":"FRONT1","x":3.068,"t":334.64},{"s":"FRONT1","x":3.137,"t":334.42},{"s":"FRONT1","x":3.206,"t":334.71},{"s":"FRONT1","x":3.258,"t":334.56},{"s":"FRONT1","x":3.302,"t":334.11},{"s":"FRONT1","x":3.345,"t":334.38},{"s":"FRONT1","x":3.414,"t":334.64},{"s":"FRONT1","x":3.484,"t":334.38},{"s":"FRONT1","x":3.553,"t":334.04},{"s":"FRONT1","x":3.622,"t":333.89},{"s":"FRONT1","x":3.692,"t":333.60},{"s":"FRONT1","x":3.761,"t":333.31},{"s":"FRONT1","x":3.830,"t":333.16},{"s":"FRONT1","x":3.882,"t":332.87},{"s":"FRONT1","x":3.934,"t":332.87},{"s":"FRONT1","x":4.003,"t":332.71},{"s":"FRONT1","x":4.055,"t":332.82},{"s":"FRONT1","x":4.142,"t":332.71},{"s":"FRONT1","x":4.194,"t":332.38},{"s":"FRONT1","x":4.246,"t":332.20},{"s":"FRONT1","x":4.350,"t":332.11},
{"s":"FRONT1","x":4.400,"t":331.67},{"s":"FRONT1","x":4.435,"t":332.04},{"s":"FRONT1","x":4.487,"t":331.93},{"s":"FRONT1","x":4.556,"t":331.60},{"s":"FRONT1","x":4.626,"t":331.38},{"s":"FRONT1","x":4.695,"t":331.09},{"s":"FRONT1","x":4.764,"t":330.93},{"s":"FRONT1","x":4.834,"t":330.87},{"s":"FRONT1","x":4.903,"t":330.87},{"s":"FRONT1","x":4.938,"t":330.93},{"s":"FRONT1","x":5.007,"t":331.27},{"s":"FRONT1","x":5.059,"t":331.71},{"s":"FRONT1","x":5.111,"t":331.53},{"s":"FRONT1","x":5.163,"t":331.38},{"s":"FRONT1","x":5.199,"t":331.09},{"s":"FRONT1","x":5.250,"t":331.27},{"s":"FRONT1","x":5.319,"t":331.60},{"s":"FRONT1","x":5.388,"t":331.89},{"s":"FRONT1","x":5.458,"t":331.98},{"s":"FRONT1","x":5.527,"t":332.04},{"s":"FRONT1","x":5.596,"t":332.27},{"s":"FRONT1","x":5.666,"t":332.20},{"s":"FRONT1","x":5.752,"t":332.38},
{"s":"FRONT2","x":-1.576,"t":335.98},{"s":"FRONT2","x":-1.469,"t":336.00},{"s":"FRONT2","x":-1.365,"t":336.02},{"s":"FRONT2","x":-1.261,"t":336.07},{"s":"FRONT2","x":-1.157,"t":336.04},{"s":"FRONT2","x":-1.054,"t":336.04},{"s":"FRONT2","x":-0.984,"t":335.98},{"s":"FRONT2","x":-0.915,"t":335.89},{"s":"FRONT2","x":-0.863,"t":335.82},{"s":"FRONT2","x":-0.811,"t":335.60},{"s":"FRONT2","x":-0.760,"t":335.60},{"s":"FRONT2","x":-0.708,"t":335.60},{"s":"FRONT2","x":-0.682,"t":335.44},{"s":"FRONT2","x":-0.638,"t":335.53},{"s":"FRONT2","x":-0.587,"t":335.53},{"s":"FRONT2","x":-0.535,"t":335.76},{"s":"FRONT2","x":-0.483,"t":335.89},{"s":"FRONT2","x":-0.413,"t":335.93},{"s":"FRONT2","x":-0.344,"t":336.00},{"s":"FRONT2","x":-0.275,"t":336.02},{"s":"FRONT2","x":-0.223,"t":336.00},{"s":"FRONT2","x":-0.189,"t":335.89},{"s":"FRONT2","x":-0.154,"t":335.53},{"s":"FRONT2","x":-0.102,"t":335.27},{"s":"FRONT2","x":-0.067,"t":335.49},{"s":"FRONT2","x":-0.016,"t":335.60},{"s":"FRONT2","x":0.019,"t":336.04},{"s":"FRONT2","x":0.054,"t":336.20},{"s":"FRONT2","x":0.088,"t":336.20},{"s":"FRONT2","x":0.123,"t":336.42},{"s":"FRONT2","x":0.157,"t":336.33},
{"s":"FRONT2","x":0.194,"t":336.56},{"s":"FRONT2","x":0.263,"t":336.78},{"s":"FRONT2","x":0.332,"t":336.93},{"s":"FRONT2","x":0.384,"t":337.09},{"s":"FRONT2","x":0.419,"t":336.38},{"s":"FRONT2","x":0.453,"t":336.33},{"s":"FRONT2","x":0.505,"t":336.53},{"s":"FRONT2","x":0.557,"t":336.42},{"s":"FRONT2","x":0.609,"t":336.20},{"s":"FRONT2","x":0.678,"t":336.33},{"s":"FRONT2","x":0.730,"t":336.78},{"s":"FRONT2","x":0.782,"t":336.87},{"s":"FRONT2","x":0.851,"t":336.93},{"s":"FRONT2","x":0.920,"t":337.00},{"s":"FRONT2","x":0.990,"t":336.93},{"s":"FRONT2","x":1.059,"t":337.00},{"s":"FRONT2","x":1.128,"t":337.16},{"s":"FRONT2","x":1.197,"t":337.27},{"s":"FRONT2","x":1.266,"t":337.53},{"s":"FRONT2","x":1.336,"t":337.71},{"s":"FRONT2","x":1.405,"t":337.82},{"s":"FRONT2","x":1.474,"t":337.60},{"s":"FRONT2","x":1.526,"t":337.89},{"s":"FRONT2","x":1.578,"t":337.98},{"s":"FRONT2","x":1.647,"t":338.02},{"s":"FRONT2","x":1.682,"t":337.27},{"s":"FRONT2","x":1.751,"t":337.38},{"s":"FRONT2","x":1.803,"t":337.71},{"s":"FRONT2","x":1.855,"t":337.44},{"s":"FRONT2","x":1.907,"t":337.09},{"s":"FRONT2","x":1.958,"t":337.00},{"s":"FRONT2","x":1.993,"t":336.38},{"s":"FRONT2","x":2.062,"t":335.38},{"s":"FRONT2","x":2.131,"t":335.16},{"s":"FRONT2","x":2.201,"t":335.09},
{"s":"FRONT2","x":2.322,"t":335.07},{"s":"FRONT2","x":2.374,"t":335.04},{"s":"FRONT2","x":2.444,"t":335.00},{"s":"FRONT2","x":2.548,"t":335.00},{"s":"FRONT2","x":2.652,"t":335.00},{"s":"FRONT2","x":2.756,"t":335.00},{"s":"FRONT2","x":2.860,"t":335.09},{"s":"FRONT2","x":2.964,"t":335.09},{"s":"FRONT2","x":3.033,"t":335.16},{"s":"FRONT2","x":3.085,"t":335.22},{"s":"FRONT2","x":3.172,"t":335.16},{"s":"FRONT2","x":3.241,"t":335.09},{"s":"FRONT2","x":3.302,"t":334.78},{"s":"FRONT2","x":3.345,"t":335.04},{"s":"FRONT2","x":3.414,"t":335.16},{"s":"FRONT2","x":3.484,"t":335.04},{"s":"FRONT2","x":3.553,"t":334.93},{"s":"FRONT2","x":3.622,"t":334.56},{"s":"FRONT2","x":3.692,"t":334.27},{"s":"FRONT2","x":3.761,"t":334.16},{"s":"FRONT2","x":3.830,"t":333.93},{"s":"FRONT2","x":3.865,"t":333.60},{"s":"FRONT2","x":3.934,"t":333.53},{"s":"FRONT2","x":3.986,"t":333.44},{"s":"FRONT2","x":4.029,"t":333.76},{"s":"FRONT2","x":4.073,"t":333.60},{"s":"FRONT2","x":4.125,"t":333.60},{"s":"FRONT2","x":4.177,"t":333.31},{"s":"FRONT2","x":4.246,"t":333.16},{"s":"FRONT2","x":4.350,"t":333.00},
{"s":"FRONT2","x":4.392,"t":332.49},{"s":"FRONT2","x":4.435,"t":333.04},{"s":"FRONT2","x":4.487,"t":332.82},{"s":"FRONT2","x":4.556,"t":332.49},{"s":"FRONT2","x":4.591,"t":332.60},{"s":"FRONT2","x":4.626,"t":332.38},{"s":"FRONT2","x":4.695,"t":332.11},{"s":"FRONT2","x":4.764,"t":331.98},{"s":"FRONT2","x":4.834,"t":331.93},{"s":"FRONT2","x":4.903,"t":331.98},{"s":"FRONT2","x":4.938,"t":331.89},{"s":"FRONT2","x":5.007,"t":332.27},{"s":"FRONT2","x":5.059,"t":332.60},{"s":"FRONT2","x":5.111,"t":332.42},{"s":"FRONT2","x":5.180,"t":332.16},{"s":"FRONT2","x":5.250,"t":332.42},{"s":"FRONT2","x":5.319,"t":332.60},{"s":"FRONT2","x":5.388,"t":332.71},{"s":"FRONT2","x":5.458,"t":332.87},{"s":"FRONT2","x":5.527,"t":333.04},{"s":"FRONT2","x":5.596,"t":333.09},{"s":"FRONT2","x":5.683,"t":333.04},{"s":"FRONT2","x":5.752,"t":333.16}
]},
"mark":{"type":"line","strokeWidth":2.08,"strokeJoin":"round"},
"encoding":{
"x":{"field":"x","type":"quantitative","scale":{"domain":[-1.937,6.12],"nice":false,"zero":false},"axis":{"title":"ra","values":[-1,0,1,2,3,4,5,6],"format":"d","labelFlush":false,"titlePadding":5}},
"y":{"field":"t","type":"quantitative","scale":{"domain":[329.55,355.24],"nice":false,"zero":false},"axis":{"title":"T [K]","values":[330,335,340,345,350,355],"format":"d","titlePadding":7}},
"color":{"field":"s","type":"nominal","scale":{"domain":["FPGA1","FPGA2","ADC1","ADC2","FRONT1","FRONT2"],"range":["#1f77b4","#ff7f0e","#2ca02c","#d62728","#9467bd","#8c564b"]},"legend":{"title":null}}
}
}
